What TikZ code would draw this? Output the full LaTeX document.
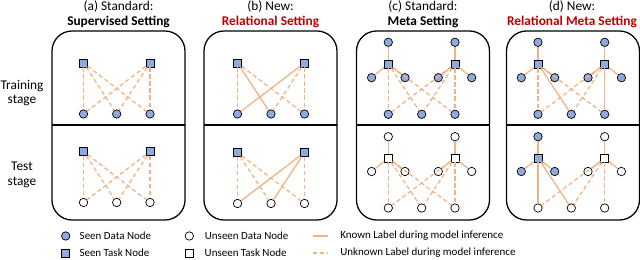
\documentclass[tikz,border=0pt]{standalone}
\usepackage{fontspec}
\setmainfont{Carlito}
\usetikzlibrary{positioning}
\definecolor{NodeBlue}{HTML}{8FAADC}
\definecolor{EdgeOrange}{HTML}{F4B183}
\definecolor{TitleRed}{HTML}{C00000}

\begin{document}
\begin{tikzpicture}[x=0.025cm, y=-0.025cm,
    panel/.style={draw, line width=0.9pt, rounded corners=0.5cm},
    seen/.style={circle, draw, line width=0.5pt, fill=NodeBlue, inner sep=0pt, minimum size=0.21cm},
    unseen/.style={seen, fill=white},
    seentask/.style={rectangle, draw, line width=0.5pt, fill=NodeBlue, inner sep=0pt, minimum size=0.2cm},
    unseentask/.style={seentask, fill=white},
    known/.style={EdgeOrange, line width=0.9pt},
    unknown/.style={known, dash pattern=on 3pt off 2pt},
    title/.style={align=center, font=\fontsize{9.5}{10.5}\selectfont},
    legend/.style={font=\fontsize{7.8}{9}\selectfont, inner sep=0pt}]

\useasboundingbox (0,0) rectangle (640,260);

% panels
\foreach \x in {52, 204, 356.5, 506.5} {
    \draw[panel] (\x,31) rectangle ++(133,189);
    \draw[line width=0.9pt] (\x,125) -- ++(133,0);
}

% titles and stage labels
\node[title] (ta) at (118.5,14.5) {(a) Standard:\\\textbf{Supervised Setting}};
\node[title] (tb) at (270.5,14.5) {(b) New:\\\textbf{\color{TitleRed}Relational Setting}};
\node[title] (tc) at (423,14.5) {(c) Standard:\\\textbf{Meta Setting}};
\node[title] (td) at (572,14.5) {(d) New:\\\textbf{\color{TitleRed}Relational Meta Setting}};
\node[title] (train) at (22,93) {Training\\stage};
\node[title] (test) at (22,175) {Test\\stage};

% (a) supervised
\node[seentask] (atr1) at (83.5,63) {};
\node[seentask] (atr2) at (150,63) {};
\node[seentask] (ate1) at (83.5,151.5) {};
\node[seentask] (ate2) at (150,151.5) {};
\foreach \i/\x in {1/83.5, 2/116.7, 3/150} {
    \node[seen] (atrd\i) at (\x,114) {};
    \node[unseen] (ated\i) at (\x,202.5) {};
}
\foreach \s in {1,2} \foreach \i in {1,2,3} {
    \draw[unknown] (atr\s) -- (atrd\i);
    \draw[unknown] (ate\s) -- (ated\i);
}

% (b) relational
\node[seentask] (btr1) at (237.5,63) {};
\node[seentask] (btr2) at (304.5,63) {};
\node[seentask] (bte1) at (237.5,152.5) {};
\node[seentask] (bte2) at (304.5,152.5) {};
\foreach \i/\x in {1/237.5, 2/271, 3/304.5} {
    \node[seen] (btrd\i) at (\x,114) {};
    \node[unseen] (bted\i) at (\x,203.5) {};
}
\draw[unknown] (btr1) -- (btrd1);
\draw[known] (btr1) -- (btrd2);
\draw[unknown] (btr1) -- (btrd3);
\draw[known] (btr2) -- (btrd1);
\draw[unknown] (btr2) -- (btrd2);
\draw[unknown] (btr2) -- (btrd3);
\draw[unknown] (bte1) -- (bted1);
\draw[unknown] (bte1) -- (bted2);
\draw[unknown] (bte1) -- (bted3);
\draw[known] (bte2) -- (bted1);
\draw[known] (bte2) -- (bted2);
\draw[unknown] (bte2) -- (bted3);

% (c) meta
\foreach \s/\x in {1/388.3, 2/455} {
    \node[seentask] (ctr\s) at (\x,64) {};
    \node[seen] (ctru\s) at (\x,42.3) {};
    \node[seen] (ctrl\s) at (\x-16.7,77.7) {};
    \node[seen] (ctrr\s) at (\x+16.7,77.7) {};
    \node[unseentask] (cte\s) at (\x,158) {};
    \node[unseen] (cteu\s) at (\x,136.7) {};
    \node[unseen] (ctel\s) at (\x-16.7,171.5) {};
    \node[unseen] (cter\s) at (\x+16.7,171.5) {};
    \draw[known] (ctr\s) -- (ctru\s);
    \draw[known] (ctr\s) -- (ctrl\s);
    \draw[known] (ctr\s) -- (ctrr\s);
    \draw[known] (cte\s) -- (cteu\s);
    \draw[known] (cte\s) -- (ctel\s);
    \draw[known] (cte\s) -- (cter\s);
}
\foreach \i/\x in {1/388.3, 2/421.7, 3/455} {
    \node[seen] (ctrd\i) at (\x,114.3) {};
    \node[unseen] (cted\i) at (\x,208) {};
}
\foreach \s in {1,2} \foreach \i in {1,2,3} {
    \draw[unknown] (ctr\s) -- (ctrd\i);
    \draw[unknown] (cte\s) -- (cted\i);
}

% (d) relational meta
\foreach \s/\x in {1/538, 2/604.7} {
    \node[seentask] (dtr\s) at (\x,64) {};
    \node[seen] (dtru\s) at (\x,42.3) {};
    \node[seen] (dtrl\s) at (\x-16.7,77.7) {};
    \node[seen] (dtrr\s) at (\x+16.7,77.7) {};
    \draw[known] (dtr\s) -- (dtru\s);
    \draw[known] (dtr\s) -- (dtrl\s);
    \draw[known] (dtr\s) -- (dtrr\s);
}
\node[seentask] (dte1) at (538,158) {};
\node[seen] (dteu1) at (538,136.7) {};
\node[seen] (dtel1) at (521.3,171.5) {};
\node[seen] (dter1) at (554.7,171.5) {};
\node[unseentask] (dte2) at (604.7,158) {};
\node[unseen] (dteu2) at (604.7,136.7) {};
\node[unseen] (dtel2) at (588,171.5) {};
\node[unseen] (dter2) at (621.4,171.5) {};
\foreach \s in {1,2} {
    \draw[known] (dte\s) -- (dteu\s);
    \draw[known] (dte\s) -- (dtel\s);
    \draw[known] (dte\s) -- (dter\s);
}
\foreach \i/\x in {1/538, 2/571.3, 3/604.7} {
    \node[seen] (dtrd\i) at (\x,114.3) {};
    \node[unseen] (dted\i) at (\x,208) {};
}
\draw[unknown] (dtr1) -- (dtrd1);
\draw[known] (dtr1) -- (dtrd2);
\draw[unknown] (dtr1) -- (dtrd3);
\draw[unknown] (dtr2) -- (dtrd1);
\draw[unknown] (dtr2) -- (dtrd2);
\draw[known] (dtr2) -- (dtrd3);
\draw[known] (dte1) -- (dted1);
\draw[known] (dte1) -- (dted2);
\draw[unknown] (dte2) -- (dted1);
\draw[unknown] (dte2) -- (dted2);
\draw[unknown] (dte2) -- (dted3);

% legend
\node[seen] (lg1) at (65.7,236) {};
\node[seentask] (lg2) at (65.7,253) {};
\node[unseen] (lg3) at (189.3,236) {};
\node[unseentask] (lg4) at (189.3,253) {};
\node[legend, right=0.23cm of lg1] (lg1t) {Seen Data Node};
\node[legend, right=0.23cm of lg2] (lg2t) {Seen Task Node};
\node[legend, right=0.27cm of lg3] (lg3t) {Unseen Data Node};
\node[legend, right=0.27cm of lg4] (lg4t) {Unseen Task Node};
\coordinate (lk1) at (313,236);
\coordinate (lk2) at (328,236);
\coordinate (lu1) at (313,253);
\coordinate (lu2) at (328,253);
\draw[known] (lk1) -- (lk2);
\draw[unknown] (lu1) -- (lu2);
\node[legend, right=0.3cm of lk2] (lkt) {Known Label during model inference};
\node[legend, right=0.3cm of lu2] (lut) {Unknown Label during model inference};
\end{tikzpicture}
\end{document}
